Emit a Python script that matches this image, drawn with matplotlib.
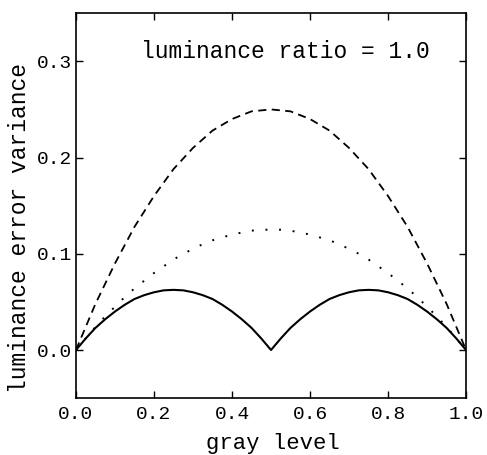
import numpy as np
import matplotlib
matplotlib.use("Agg")
import matplotlib.pyplot as plt

plt.rcParams["font.family"] = ["Liberation Mono", "DejaVu Sans Mono"]

# gray level samples
gray = np.linspace(0.0, 1.0, 41)

# dashed curve
dashed = [0.000, 0.024, 0.048, 0.069, 0.090, 0.109, 0.128, 0.144, 0.160, 0.174,
          0.188, 0.199, 0.210, 0.219, 0.228, 0.234, 0.240, 0.244, 0.248, 0.249,
          0.250,
          0.249, 0.248, 0.244, 0.240, 0.234, 0.228, 0.219, 0.210, 0.199, 0.188,
          0.174, 0.160, 0.144, 0.128, 0.109, 0.090, 0.069, 0.048, 0.024, 0.000]

# dotted curve
dotted = [0.000, 0.012, 0.024, 0.035, 0.045, 0.055, 0.064, 0.072, 0.080, 0.087,
          0.094, 0.100, 0.105, 0.110, 0.114, 0.117, 0.120, 0.122, 0.124, 0.125,
          0.125,
          0.125, 0.124, 0.122, 0.120, 0.117, 0.114, 0.110, 0.105, 0.100, 0.094,
          0.087, 0.080, 0.072, 0.064, 0.055, 0.045, 0.035, 0.024, 0.012, 0.000]

# solid curve
solid = [0.000, 0.012, 0.023, 0.032, 0.040, 0.047, 0.053, 0.057, 0.060, 0.062,
         0.0625, 0.062, 0.060, 0.057, 0.053, 0.047, 0.040, 0.032, 0.023, 0.012,
         0.000,
         0.012, 0.023, 0.032, 0.040, 0.047, 0.053, 0.057, 0.060, 0.062, 0.0625,
         0.062, 0.060, 0.057, 0.053, 0.047, 0.040, 0.032, 0.023, 0.012, 0.000]

xticks = [0.0, 0.2, 0.4, 0.6, 0.8, 1.0]
yticks = [0.0, 0.1, 0.2, 0.3]

fig = plt.figure(figsize=(4.87, 4.55), dpi=100)
ax = fig.add_axes([0.156, 0.125, 0.801, 0.846])

ax.plot(gray, dashed, color="black", lw=1.3, linestyle=(0, (4.5, 3)))
ax.plot(gray, dotted, color="black", lw=1.4, linestyle=(0, (1, 6)))
ax.plot(gray, solid, color="black", lw=1.5)

ax.set_xlim(0, 1)
ax.set_ylim(-0.05, 0.35)
ax.set_xticks(xticks)
ax.set_yticks(yticks)
ax.set_xticklabels(["%.1f" % v for v in xticks])
ax.set_yticklabels(["%.1f" % v for v in yticks])
ax.tick_params(direction="in", top=True, right=True, length=5, width=1,
               labelsize=14)
ax.tick_params(axis="x", pad=6)
ax.tick_params(axis="y", pad=3)
for s in ax.spines.values():
    s.set_linewidth(1.2)

# axis titles placed as in the scan
fig.text(0.561, 0.013, "gray level", fontsize=16, ha="center", va="baseline")
fig.text(0.041, 0.499, "luminance error variance", fontsize=16.5,
         rotation=90, ha="center", va="center")
ax.text(0.536, 0.31, "luminance ratio = 1.0", fontsize=16.5,
        ha="center", va="center")

fig.savefig("out.png", dpi=100)
